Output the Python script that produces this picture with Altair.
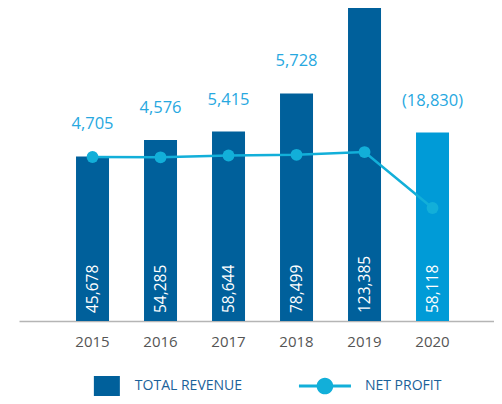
import altair as alt
import pandas as pd

years = ["2015", "2016", "2017", "2018", "2019", "2020"]
revenue = [45678, 54285, 58644, 78499, 123385, 58118]
revenue_labels = ["45,678", "54,285", "58,644", "78,499", "123,385", "58,118"]
net_profit = [4705, 4576, 5415, 5728, 7000, -18830]
profit_labels = ["4,705", "4,576", "5,415", "5,728", "", "(18,830)"]
legend_names = ["TOTAL REVENUE", "NET PROFIT"]

DARK = "#00609b"
LIGHT = "#009bd7"
CYAN = "#12afd9"
LABEL = "#27a8df"
LEGEND_TXT = "#1b6199"
FONT = "Open Sans"

df = pd.DataFrame({
    "year": years,
    "revenue": revenue,
    "rlabel": revenue_labels,
    "profit": net_profit,
    "plabel": profit_labels,
})

rev_min, rev_max = -40000, 123000
x = alt.X(
    "year:N",
    sort=years,
    scale=alt.Scale(paddingInner=0.5147, paddingOuter=0.75, align=0.559),
    axis=alt.Axis(title=None, ticks=False, labelAngle=0, labelPadding=13,
                  labelFontSize=15, labelColor="#555555", labelFont=FONT,
                  domainColor="#b5b5b5", domainWidth=1.5, grid=False),
)
y_rev = alt.Y("revenue:Q", scale=alt.Scale(domain=[rev_min, rev_max], nice=False, zero=False), axis=None)

base = alt.Chart(df)

bars = base.mark_bar(clip=True).encode(
    x=x,
    y=y_rev,
    y2=alt.datum(rev_min),
    color=alt.condition(alt.datum.year == "2020", alt.value(LIGHT), alt.value(DARK)),
)
bar_text = base.mark_text(angle=270, align="left", baseline="middle", dx=8,
                          color="white", fontSize=15.5, font=FONT).encode(
    x=x,
    y=alt.Y("rev_base:Q", scale=alt.Scale(domain=[rev_min, rev_max], nice=False, zero=False), axis=None),
    text="rlabel:N",
).transform_calculate(rev_base=str(rev_min))
profit_text = base.mark_text(dy=-32, baseline="middle", color=LABEL,
                             fontSize=16.5, font=FONT).encode(
    x=x, y=y_rev, text="plabel:N"
).transform_filter(alt.datum.plabel != "")

y_prof = alt.Y("profit:Q", scale=alt.Scale(domain=[-71000, 73500], nice=False, zero=False), axis=None)
line = base.mark_line(color=CYAN, strokeWidth=2.5).encode(x=x, y=y_prof)
dots = base.mark_point(filled=True, size=140, opacity=1, color=CYAN).encode(x=x, y=y_prof)

main = alt.layer(
    alt.layer(bars, bar_text, profit_text),
    alt.layer(line, dots),
).resolve_scale(y="independent").properties(width=475, height=313)

# legend panel
ldf = pd.DataFrame({"name": legend_names})
lx = alt.X("name:N", scale=alt.Scale(type="point", domain=legend_names, padding=0.589, align=0.342), axis=None)
lbase = alt.Chart(ldf)
sq = lbase.mark_point(shape="M-1,-0.77H1V0.77H-1Z", filled=True, size=676, opacity=1,
                      color=DARK).encode(x=lx).transform_filter(alt.datum.name == "TOTAL REVENUE")
np_path = ("M-1,-0.058H1V0.058H-1Z "
           "M0.32,0A0.32,0.32 0 1,1 -0.32,0A0.32,0.32 0 1,1 0.32,0Z")
sym = lbase.mark_point(shape=np_path, filled=True, size=2704, opacity=1,
                       color=CYAN).encode(x=lx).transform_filter(alt.datum.name == "NET PROFIT")
t1 = lbase.mark_text(align="left", baseline="middle", dx=28, fontSize=14, font=FONT,
                     color=LEGEND_TXT).encode(x=lx, text="name:N").transform_filter(alt.datum.name == "TOTAL REVENUE")
t2 = lbase.mark_text(align="left", baseline="middle", dx=40, fontSize=14, font=FONT,
                     color=LEGEND_TXT).encode(x=lx, text="name:N").transform_filter(alt.datum.name == "NET PROFIT")
legend = alt.layer(sq, sym, t1, t2).properties(width=475, height=20)

chart = alt.vconcat(main, legend, spacing=55, bounds="flush").properties(
    padding={"left": 11, "top": 0, "right": 0, "bottom": 0}
).configure_view(stroke=None)

chart.save("out.html", embed_options={"renderer": "svg", "actions": False})
